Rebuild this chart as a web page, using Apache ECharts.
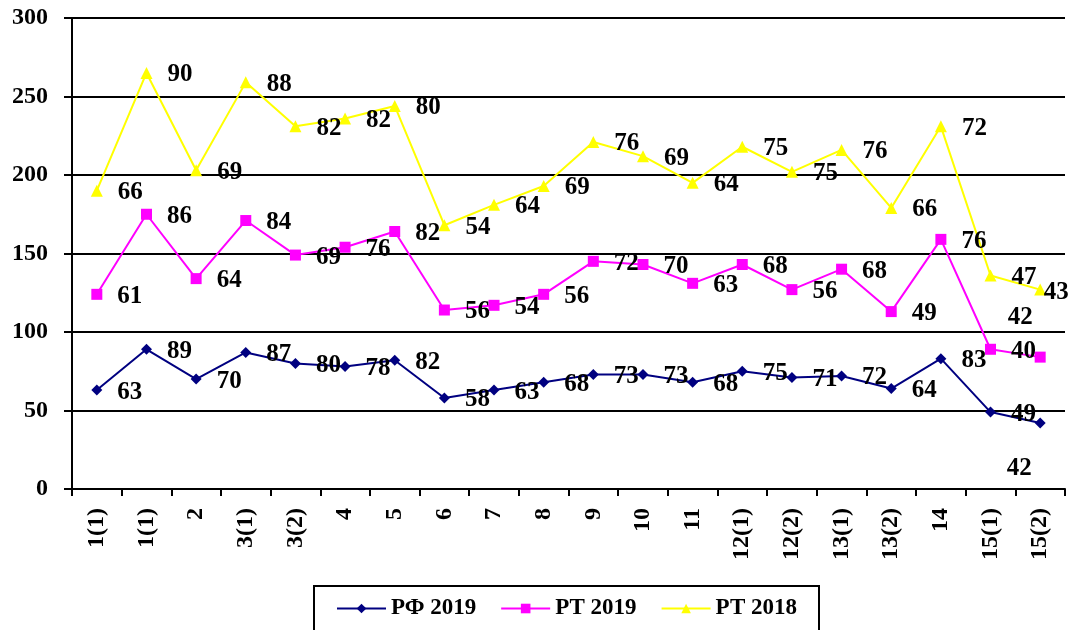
<!DOCTYPE html>
<html>
<head>
<meta charset="utf-8">
<script src="https://cdn.jsdelivr.net/npm/echarts@6/dist/echarts.min.js"></script>
<style>
  html, body { margin: 0; padding: 0; background: #fff; }
  #chart { width: 1079px; height: 630px; }
</style>
</head>
<body>
<div id="chart"></div>
<script>
const categories = ['1(1)', '1(1)', '2', '3(1)', '3(2)', '4', '5', '6', '7', '8',
  '9', '10', '11', '12(1)', '12(2)', '13(1)', '13(2)', '14', '15(1)', '15(2)'];
const rf2019 = [63, 89, 70, 87, 80, 78, 82, 58, 63, 68, 73, 73, 68, 75, 71, 72, 64, 83, 49, 42];
const rt2019 = [61, 86, 64, 84, 69, 76, 82, 56, 54, 56, 72, 70, 63, 68, 56, 68, 49, 76, 40, 42];
const rt2018 = [66, 90, 69, 88, 82, 82, 80, 54, 64, 69, 76, 69, 64, 75, 75, 76, 66, 72, 47, 43];

const font = '"Liberation Serif", "Times New Roman", serif';

// last point labels were moved by hand in the original
const withLastLabel = (values, offset) => values.map((v, i) => (
  i === values.length - 1
    ? { value: v, label: { position: 'inside', offset } }
    : v
));

const lineSeries = (name, values, color, symbol, symbolSize, lastOffset) => ({
  name,
  type: 'line',
  stack: 'total',
  data: withLastLabel(values, lastOffset),
  symbol,
  symbolSize,
  lineStyle: { color, width: 2 },
  itemStyle: { color },
  label: {
    show: true,
    position: 'right',
    distance: 15,
    offset: [0, 2],
    color: '#000',
    fontFamily: font,
    fontWeight: 'bold',
    fontSize: 25,
  },
  emphasis: { disabled: true },
  animation: false,
});

const chart = echarts.init(document.getElementById('chart'));
chart.setOption({
  backgroundColor: '#fff',
  grid: { left: 72, right: 14, top: 18, bottom: 141 },
  xAxis: {
    type: 'category',
    data: categories,
    boundaryGap: true,
    axisLine: { lineStyle: { color: '#000', width: 2 } },
    axisTick: { show: true, length: 7, inside: false, lineStyle: { color: '#000', width: 2 } },
    axisLabel: {
      rotate: 90,
      margin: 19,
      color: '#000',
      fontFamily: font,
      fontWeight: 'bold',
      fontSize: 24,
      interval: 0,
    },
  },
  yAxis: {
    type: 'value',
    min: 0,
    max: 300,
    interval: 50,
    axisLine: { show: true, lineStyle: { color: '#000', width: 2 } },
    axisTick: { show: true, length: 8, lineStyle: { color: '#000', width: 2 } },
    splitLine: { lineStyle: { color: '#000', width: 2 } },
    axisLabel: {
      margin: 24,
      color: '#000',
      fontFamily: font,
      fontWeight: 'bold',
      fontSize: 24,
    },
  },
  legend: {
    left: 314,
    top: 586,
    width: 508,
    padding: [11, 22, 24, 22],
    itemGap: 24,
    itemWidth: 49,
    itemHeight: 12,
    borderColor: '#000',
    borderWidth: 2,
    textStyle: {
      color: '#000',
      fontFamily: font,
      fontWeight: 'bold',
      fontSize: 23,
    },
    data: ['РФ 2019', 'РТ 2019', 'РТ 2018'],
  },
  series: [
    lineSeries('РФ 2019', rf2019, '#000080', 'diamond', 11, [-21, 45]),
    lineSeries('РТ 2019', rt2019, '#ff00ff', 'rect', 11, [-20, -40]),
    lineSeries('РТ 2018', rt2018, '#ffff00', 'triangle', 12, [16, 3]),
  ],
});
</script>
</body>
</html>
